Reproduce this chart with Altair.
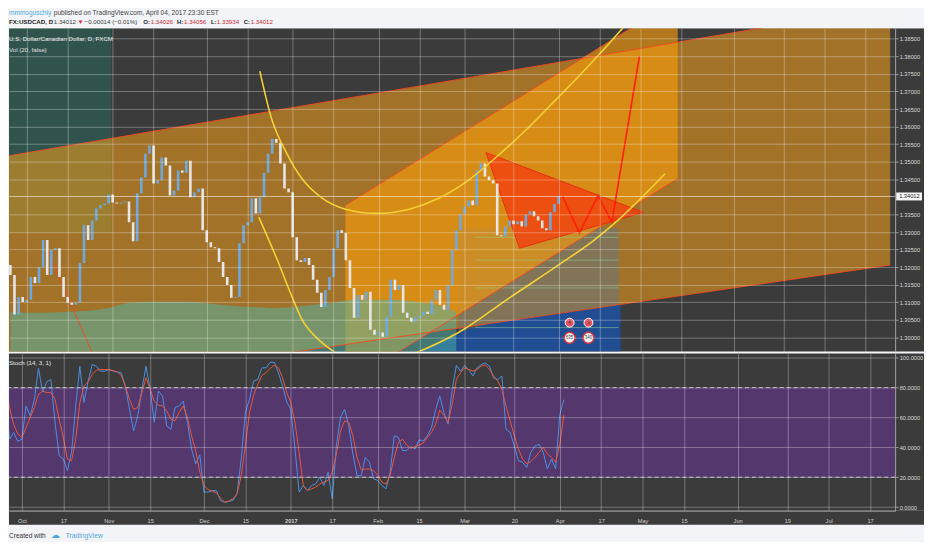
import altair as alt
import pandas as pd

# ---------------- data ----------------
first_index = -4
first_open = 1.3206
closes = [
    1.3178, 1.3065, 1.3115, 1.3101,
    1.3107, 1.3172, 1.3155, 1.3200, 1.3277, 1.3178, 1.3249, 1.3254, 1.3172, 1.3115,
    1.3099, 1.3093, 1.3099, 1.3212, 1.3319, 1.3277, 1.3333, 1.3367, 1.3376, 1.3381,
    1.3407, 1.3384, 1.3381, 1.3384, 1.3387, 1.3328, 1.3274, 1.3410, 1.3455, 1.3523,
    1.3546, 1.3438, 1.3447, 1.3512, 1.3489, 1.3404, 1.3418, 1.3475, 1.3469, 1.3503,
    1.3399, 1.3413, 1.3424, 1.3305, 1.3271, 1.3257, 1.3254, 1.3215, 1.3172, 1.3149,
    1.3113, 1.3115, 1.3268, 1.3319, 1.3328, 1.3396, 1.3353, 1.3399, 1.3469, 1.3523,
    1.3565, 1.3554, 1.3495, 1.3424, 1.3413, 1.3285, 1.3220, 1.3215, 1.3226, 1.3206,
    1.3164, 1.3127, 1.3087, 1.3135, 1.3172, 1.3254, 1.3305, 1.3297, 1.3220, 1.3141,
    1.3056, 1.3121, 1.3107, 1.3130, 1.3022, 1.3008, 1.3014, 1.3002, 1.3059, 1.3164,
    1.3135, 1.3149, 1.3070, 1.3056, 1.3045, 1.3056, 1.3062, 1.3073, 1.3067, 1.3107,
    1.3135, 1.3093, 1.3079, 1.3149, 1.3249, 1.3305, 1.3350, 1.3373, 1.3390, 1.3376,
    1.3475, 1.3495, 1.3458, 1.3447, 1.3438, 1.3291, 1.3288, 1.3316, 1.3333, 1.3322,
    1.3331, 1.3316, 1.3350, 1.3359, 1.3345, 1.3333, 1.3311, 1.3305, 1.3356, 1.3380,
    1.34026, 1.34012,
]
stoch_k = [
    80, 45.5, 50, 44,
    45.5, 67.8, 61, 72, 93, 77, 84, 85.5, 56.7, 34.4,
    32.2, 24.4, 36.7, 67.8, 94.4, 70, 84.4, 95.5, 94.4, 91.1,
    91.1, 92.2, 91, 90.6, 90, 81, 65.5, 51, 61, 79,
    94.4, 79, 56.7, 77.8, 74.4, 54.4, 52, 66.7, 67.8, 71,
    56.7, 38.9, 28.9, 35, 10, 10, 11, 11, 4.4, 3,
    3.8, 4.4, 8.9, 32.2, 63.3, 72.2, 84.4, 85.5, 93.3, 93.3,
    97, 97, 90, 81, 70.4, 65.5, 38.9, 10, 14.4, 11.1,
    14.4, 15.5, 20, 14.4, 23.3, 5.5, 41, 60, 65.5, 54.4,
    35.5, 21, 21, 33.3, 30, 18.9, 17.8, 14.4, 12.2, 23.3,
    47.8, 46.7, 37.8, 37.8, 40.6, 38.9, 45, 44.4, 47.8, 53.3,
    65.5, 74.4, 63.3, 55.5, 78.9, 94.9, 91, 94.9, 92, 87.8,
    93.3, 95.5, 96.6, 94.4, 86.6, 85.5, 87.8, 52.2, 50, 41,
    31, 30, 26.6, 36.7, 41, 42, 36.7, 25.5, 32.2, 25.5,
    62, 72,
]
stoch_d = [
    85.5, 66.7, 55.5, 48.9,
    46.7, 53.3, 60, 66.7, 75.5, 77.8, 76.7, 76.7, 72.2, 58.9,
    46.7, 32.2, 31, 45.5, 70, 81, 84, 88.9, 91.8, 92.2,
    92.2, 92.2, 91.5, 90.6, 88.2, 81, 72.2, 65.5, 66.7, 76.7,
    86.6, 79, 71, 68.2, 67.8, 64.4, 58.9, 57.8, 63.3, 67.8,
    60, 47.8, 37.8, 23.3, 14.4, 11.7, 10.6, 9.5, 6, 3.3,
    4, 5.5, 8.9, 21, 41, 63.3, 74.9, 82.2, 88.2, 90,
    92.9, 95.1, 93.3, 86.6, 76.7, 70, 56.7, 36.7, 14.4, 11.1,
    12.2, 13.3, 15.5, 16.7, 17.8, 23.3, 35.5, 51, 57.8, 56.7,
    47.8, 33.3, 25, 25.5, 25.5, 24.4, 21.1, 16.7, 15.5, 21.1,
    33.3, 43.3, 45.5, 41.5, 39.3, 40.6, 41.5, 42.9, 46.7, 50,
    55.5, 65, 61.5, 56.7, 68.9, 85.5, 90, 93.3, 92.2, 91.1,
    92.2, 94.4, 95.3, 92.2, 87.8, 84.4, 78.9, 67.8, 57.8, 47.8,
    38.9, 32.2, 28.9, 30.4, 33.3, 36.7, 40, 35.5, 33.3, 30,
    42, 62,
]
vol_idx = [-4, 0, 5, 10, 15, 20, 25, 30, 35, 40, 45, 50, 55, 60, 65, 70, 75, 80, 85, 90, 95, 100, 105]
vol_val = [12.3, 12.0, 12.0, 12.3, 12.6, 13.5, 15.1, 15.4, 15.4, 15.4, 14.8, 14.2,
           13.8, 13.5, 13.8, 14.5, 15.1, 16.0, 16.0, 16.0, 15.4, 14.5, 12.3]

tick_idx = [0, 10, 21, 31, 44, 54, 65, 75, 86, 96, 107, 119, 130, 140, 150, 160, 173, 185, 195, 205]
tick_lbl = ["Oct", "17", "Nov", "15", "Dec", "15", "2017", "17", "Feb", "15", "Mar", "20",
            "Apr", "17", "May", "15", "Jun", "19", "Jul", "17"]
price_ticks = [round(1.300 + 0.005 * k, 3) for k in range(18) if k != 8]
stoch_ticks = [0, 20, 40, 60, 80, 100]
last_price = 1.34012

# drawings (bar index, price)
big_i, big_top, big_bot = [-4.33, 211.06], [1.3517, 1.3943], [1.2840, 1.3206]
steep_i, steep_top, steep_bot = [77.88, 159.13], [1.3376, 1.3963], [1.2865, 1.3452]
diag_i, diag_p = [5.29, 15.87], [1.3243, 1.2960]
teal_box = dict(x1=-4.33, x2=20.67, p1=1.3297, p2=1.3885)
fib_box = dict(x1=105.53, x2=144.71, p1=1.2960, p2=1.3311)
fib_levels = [1.3285, 1.3220, 1.3141, 1.3028]
fib_x = [109.6, 144.7]
blue_i, blue_top = [95.91, 105.53, 112.74, 145.19], [1.2960, 1.3014, 1.3039, 1.3094]
up_curve_i = [56.97, 59.86, 63.46, 67.07, 71.88, 77.88, 85.58, 93.51, 100.72, 107.93, 115.14, 122.36, 129.57, 137.98, 145.67, 148.8]
up_curve_p = [1.3758, 1.3622, 1.3526, 1.3455, 1.3399, 1.3365, 1.3353, 1.3365, 1.3396, 1.3447, 1.3517, 1.3594, 1.3679, 1.3781, 1.3880, 1.3922]
lo_curve_i = [56.73, 58.65, 61.06, 64.66, 67.07, 71.88, 75.48, 85.82, 95.91, 105.53, 118.27, 129.57, 138.7, 143.99, 148.8, 156.01]
lo_curve_p = [1.3342, 1.3291, 1.3226, 1.3121, 1.3056, 1.2988, 1.2957, 1.2920, 1.2960, 1.3014, 1.3115, 1.3203, 1.3277, 1.3328, 1.3381, 1.3466]
tri_i, tri_p = [112.26, 150.72, 120.43], [1.3526, 1.3356, 1.3254]
zig_i = [131, 135.1, 139.66, 143.03, 149.76]
zig_p = [1.34012, 1.3297, 1.3404, 1.3328, 1.3800]
event_i = [132.7, 137.3, 132.7, 137.3]
event_p = [1.3042, 1.3042, 1.2999, 1.2999]
event_t = ["4", "3", "635", "340"]

# ---------------- styling ----------------
FONT = "Liberation Sans, Arial, Helvetica, sans-serif"
DARK = "#3b3b3b"
BG = "#f2f4f7"
W, HP, HS = 891, 325, 158
P0, P1 = 1.29598, 1.38796

xs = alt.Scale(domain=[-3.125, 211.06], nice=False, zero=False)
ps = alt.Scale(domain=[P0, P1], nice=False, zero=False)
ss = alt.Scale(domain=[-2.47, 102.87], nice=False, zero=False)
GRID = dict(grid=True, gridColor="#ffffff", gridOpacity=0.3, gridWidth=1, zindex=1, title=None)

xax_p = alt.Axis(values=tick_idx, labels=False, ticks=False, domain=False, minExtent=0, maxExtent=0, **GRID)
yax_p = alt.Axis(orient="right", values=price_ticks, format=".5f", labelColor="#dcdcdc",
                 labelFont=FONT, labelFontSize=5.7, labelPadding=1, labelFlush=False,
                 ticks=True, tickSize=3, tickColor="#9a9a9a", domain=True, domainColor="#a0a0a0", **GRID)
lbl_expr = ("[" + ",".join("'%s'" % s for s in tick_lbl) + "][indexof(["
            + ",".join(str(v) for v in tick_idx) + "], datum.value)]")
xax_s = alt.Axis(values=tick_idx, labelExpr=lbl_expr, labelColor="#d0d0d0", labelFont=FONT,
                 labelFontSize=5.7, labelPadding=7, labelFlush=False,
                 labelFontWeight={"condition": {"test": "datum.value == 65", "value": "bold"}, "value": "normal"},
                 ticks=False, domain=True, domainColor="#a0a0a0", **GRID)
yax_s = alt.Axis(orient="right", values=stoch_ticks, format=".4f", labelColor="#dcdcdc",
                 labelFont=FONT, labelFontSize=5.7, labelPadding=1, labelFlush=False,
                 ticks=True, tickSize=3, tickColor="#9a9a9a", domain=True, domainColor="#a0a0a0", **GRID)


def XP(f):
    return alt.X(f, type="quantitative", scale=xs, axis=xax_p)


def XS(f):
    return alt.X(f, type="quantitative", scale=xs, axis=xax_s)


def YB(f):
    return alt.Y(f, type="quantitative", scale=ps, axis=yax_p)


def YF(f):
    return alt.Y(f, type="quantitative", scale=ps, axis=None)


def YS(f):
    return alt.Y(f, type="quantitative", scale=ss, axis=yax_s)


one = pd.DataFrame({"a": [0]})

# ---------------- tables ----------------
n = len(closes)
candles = pd.DataFrame({
    "i": list(range(first_index, first_index + n)),
    "open": [first_open] + closes[:-1],
    "close": closes,
})
candles["col"] = ["#6fa8dc" if c >= o else "#e6e6e6" for o, c in zip(candles.open, candles.close)]
stoch = pd.DataFrame({"i": list(range(first_index, first_index + n)), "k": stoch_k, "d": stoch_d})
vol = pd.DataFrame({"i": vol_idx, "v": vol_val})

big = pd.DataFrame({"i": big_i, "top": big_top, "bot": big_bot})
steep = pd.DataFrame({"i": steep_i, "top": steep_top, "bot": steep_bot})
blue_df = pd.DataFrame({"i": blue_i, "top": blue_top, "bot": [P0] * len(blue_i)})
teal_df = pd.DataFrame([teal_box])
fib_df = pd.DataFrame([fib_box])
fib_lines = pd.DataFrame([{"lvl": k, "i": x, "p": lv} for k, lv in enumerate(fib_levels) for x in fib_x])

lines_rows = []
for seg, ii, pp in [("bt", big_i, big_top), ("bb", big_i, big_bot), ("st", steep_i, steep_top),
                    ("sb", steep_i, steep_bot), ("dg", diag_i, diag_p)]:
    for a, b in zip(ii, pp):
        lines_rows.append({"seg": seg, "i": a, "p": b})
chan_lines = pd.DataFrame(lines_rows)

curves = pd.DataFrame(
    [{"c": "up", "i": a, "p": b} for a, b in zip(up_curve_i, up_curve_p)]
    + [{"c": "lo", "i": a, "p": b} for a, b in zip(lo_curve_i, lo_curve_p)]
)

# triangle as an area: top edge A->B, bottom edges A->C->B
iA, iB, iC = tri_i
pA, pB, pC = tri_p
topC = pA + (pB - pA) * (iC - iA) / (iB - iA)
tri_area = pd.DataFrame({"i": [iA, iC, iB], "top": [pA, topC, pB], "bot": [pA, pC, pB]})
tri_line = pd.DataFrame({"i": [iA, iB, iC, iA], "p": [pA, pB, pC, pA], "o": [0, 1, 2, 3]})
zig = pd.DataFrame({"i": zig_i, "p": zig_p})
events = pd.DataFrame({"i": event_i, "p": event_p, "t": event_t, "row": [1, 1, 2, 2]})

half = 4.0 * (P1 - P0) / HP
box = pd.DataFrame({"p": [last_price], "top": [last_price + half], "bot": [last_price - half],
                    "t": ["%.5f" % last_price]})

# ---------------- price panel ----------------
bg_layers = [
    alt.Chart(one).mark_rect(color=DARK).encode(
        x=alt.value(W), x2=alt.value(W + 29), y=alt.value(0), y2=alt.value(HP)),
    alt.Chart(teal_df).mark_rect(color="#12a085", opacity=0.26, clip=True).encode(
        x=XP("x1"), x2="x2", y=YB("p1"), y2="p2"),
    alt.Chart(big).mark_area(color="#f7a11b", opacity=0.55, clip=True).encode(
        x=XP("i"), y=YB("top"), y2="bot"),
    alt.Chart(fib_df).mark_rect(color="#5a7a90", opacity=0.45, clip=True).encode(
        x=XP("x1"), x2="x2", y=YB("p1"), y2="p2"),
    alt.Chart(steep).mark_area(color="#f59a0c", opacity=0.65, clip=True).encode(
        x=XP("i"), y=YB("top"), y2="bot"),
    alt.Chart(blue_df).mark_area(color="#1d4d98", opacity=0.9, clip=True).encode(
        x=XP("i"), y=YB("top"), y2="bot"),
]

vol_layer = alt.Chart(vol).mark_area(color="#4db6ac", opacity=0.5, interpolate="monotone", clip=True).encode(
    x=XP("i"), y=alt.Y("v", type="quantitative", scale=alt.Scale(domain=[0, 100]), axis=None))


def vtext(txt, x, y, color, size=6.2, weight="normal"):
    return alt.Chart(one).mark_text(text=txt, align="left", baseline="alphabetic", font=FONT,
                                    fontSize=size, fontWeight=weight, color=color).encode(
        x=alt.value(x), y=alt.value(y))


RED = "#d0262e"
TXT = "#3a3a3a"
fg_layers = [
    alt.Chart(one).mark_rect(color=BG).encode(
        x=alt.value(0), x2=alt.value(W + 29), y=alt.value(-19), y2=alt.value(0)),
    alt.Chart(fib_lines).mark_line(color="#8fd08a", strokeWidth=1, opacity=0.55, clip=True).encode(
        x=XP("i"), y=YF("p"), detail="lvl:N"),
    alt.Chart(chan_lines).mark_line(color="#f04a22", strokeWidth=1, opacity=0.9, clip=True).encode(
        x=XP("i"), y=YF("p"), detail="seg:N"),
    alt.Chart(tri_area).mark_area(color="#f23d0e", opacity=0.78, clip=True).encode(
        x=XP("i"), y=YF("top"), y2="bot"),
    alt.Chart(tri_line).mark_line(color="#e8300c", strokeWidth=1, clip=True).encode(
        x=XP("i"), y=YF("p"), order="o:Q"),
    alt.Chart(candles).mark_bar(width=2.6, clip=True).encode(
        x=XP("i"), y=YF("open"), y2="close", color=alt.Color("col:N", scale=None)),
    alt.Chart(box).mark_rule(color="#ffffff", opacity=0.55, strokeWidth=1).encode(y=YF("p")),
    alt.Chart(curves).mark_line(color="#f5d033", strokeWidth=1.6, interpolate="monotone", clip=True).encode(
        x=XP("i"), y=YF("p"), detail="c:N"),
    alt.Chart(zig).mark_line(color="#ff1e00", strokeWidth=1.6, clip=True).encode(
        x=XP("i"), y=YF("p")),
    alt.Chart(events).transform_filter("datum.row == 2").mark_circle(
        size=120, color="#f4f4f4", opacity=1, stroke="#e03040", strokeWidth=1.5).encode(
        x=XP("i"), y=YF("p")),
    alt.Chart(events).transform_filter("datum.row == 1").mark_circle(
        size=80, color="#e8505b", opacity=1, stroke="#ffffff", strokeWidth=1).encode(
        x=XP("i"), y=YF("p")),
    alt.Chart(events).mark_text(fontSize=4.5, font=FONT, color="#333333").encode(
        x=XP("i"), y=YF("p"), text="t:N"),
    alt.Chart(box).mark_rect(color="#f4f4f4").encode(
        x=alt.value(W + 1), x2=alt.value(W + 27), y=YF("top"), y2="bot"),
    alt.Chart(box).mark_text(align="left", baseline="middle", font=FONT, fontSize=5.7, color="#222222").encode(
        x=alt.value(W + 4), y=YF("p"), text="t:N"),
    vtext("U.S. Dollar/Canadian Dollar, D, FXCM", 0, 13, "#e8e8e8"),
    vtext("Vol (20, false)", 0, 24, "#e0e0e0"),
    # header
    vtext("mmmoguschiy", 0, -13.5, "#4fa8dc", size=6.6),
    vtext("published on TradingView.com, April 04, 2017 23:30 EST", 45, -13.5, "#444444", size=6.6),
    vtext("FX:USDCAD, D", 0, -4.5, "#222222", weight="bold"),
    vtext("1.34012", 45, -4.5, TXT),
    vtext("\u25bc", 69, -4.5, "#e0282e"),
    vtext("\u22120.00014 (\u22120.01%)", 76, -4.5, TXT),
    vtext("O:", 135, -4.5, "#222222", size=6.0, weight="bold"),
    vtext("1.34026", 142.5, -4.5, RED),
    vtext("H:", 169, -4.5, "#222222", size=6.0, weight="bold"),
    vtext("1.34056", 176, -4.5, RED),
    vtext("L:", 203, -4.5, "#222222", size=6.0, weight="bold"),
    vtext("1.33934", 209, -4.5, RED),
    vtext("C:", 236, -4.5, "#222222", size=6.0, weight="bold"),
    vtext("1.34012", 243, -4.5, RED),
]

price = alt.layer(alt.layer(*bg_layers), vol_layer, alt.layer(*fg_layers)).resolve_scale(
    y="independent").properties(width=W, height=HP)

# ---------------- stoch panel ----------------
levels = pd.DataFrame({"lvl": [20, 80]})
band = pd.DataFrame({"lo": [20], "hi": [80]})
stoch_layers = [
    alt.Chart(one).mark_rect(color=DARK).encode(
        x=alt.value(W), x2=alt.value(W + 29), y=alt.value(0), y2=alt.value(HS)),
    alt.Chart(one).mark_rect(color=DARK).encode(
        x=alt.value(0), x2=alt.value(W + 29), y=alt.value(HS), y2=alt.value(HS + 14)),
    alt.Chart(band).mark_rect(color="#8e2de2", opacity=0.3).encode(
        x=alt.value(0), x2=alt.value(W), y=YS("lo"), y2="hi"),
    alt.Chart(levels).mark_rule(color="#d8d8d8", strokeDash=[4, 3], strokeWidth=1, opacity=0.8).encode(
        y=YS("lvl")),
    alt.Chart(stoch).mark_line(color="#4a90e2", strokeWidth=1, clip=True).encode(x=XS("i"), y=YS("k")),
    alt.Chart(stoch).mark_line(color="#e8583c", strokeWidth=1, clip=True).encode(x=XS("i"), y=YS("d")),
    vtext("Stoch (14, 3, 1)", 0, 11, "#e8e8e8"),
    vtext("Created with", 0, 185, "#333333", size=6.6),
    vtext("\u2601", 42, 185.5, "#4ea6dd", size=9),
    vtext("TradingView", 57, 185, "#4ea6dd", size=6.8),
]
stoch_panel = alt.layer(*stoch_layers).properties(width=W, height=HS)

chart = alt.vconcat(price, stoch_panel, spacing=2).properties(
    background=BG, padding=0).configure_view(fill=DARK, stroke=None)

chart.save("out.html", embed_options={"renderer": "svg", "actions": False})
